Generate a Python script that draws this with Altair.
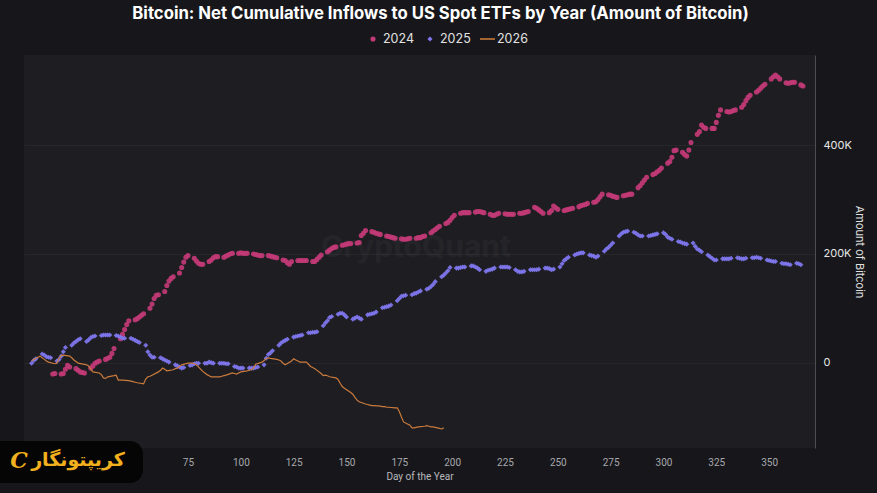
import altair as alt
import pandas as pd

# ---------------- data (net cumulative inflows, thousand BTC, per trading day) ----------------
years = ["2024", "2025", "2026"]
colors = ["#c23a76", "#8077f0", "#c97a3d"]

vals_2024 = sum([
    [-21, -20],
    [-21, -20, -12, -5, -8],
    [-11, -14, -17, -18, -19],
    [-10, -6, -1, 1, 3],
    [6, 8, 10, 17, 26],
    [44, 52, 61, 70, 77],
    [79, 81, 84, 87, 90],
    [100, 108, 118, 124, 125],
    [131, 142, 150, 155, 158],
    [165, 175, 185, 194, 197],
    [192, 187, 183, 181, 181],
    [186, 189, 193, 195, 195],
    [194, 196, 198, 200, 201],
    [201, 202, 201, 201, 201],
    [200, 199, 198, 197, 197],
    [197, 196, 195, 194, 193],
    [189, 188, 184, 181, 186],
    [188, 188, 188, 188, 188],
    [186, 186, 190, 194, 198],
    [204, 207, 210, 212, 213],
    [216, 217, 218, 219, 219],
    [220, 221, 234, 238, 243],
    [241, 240, 238, 237, 236],
    [233, 232, 231, 230, 229],
    [228, 227, 227, 228, 229],
    [229, 230, 230, 232, 233],
    [239, 242, 245, 248, 251],
    [256, 258, 262, 267, 271],
    [275, 276, 276, 276, 276],
    [277, 278, 278, 277, 276],
    [273, 271, 271, 273, 275],
    [274, 273, 273, 273, 273],
    [275, 275, 276, 277, 278],
    [286, 284, 281, 278, 275],
    [276, 280, 288, 285, 282],
    [280, 281, 282, 283, 284],
    [287, 289, 290, 291, 293],
    [295, 296, 300, 305, 310],
    [309, 308, 306, 305, 304],
    [307, 308, 309, 310, 310],
    [322, 326, 331, 336, 341],
    [346, 348, 351, 354, 358],
    [367, 370, 378, 390, 391],
    [387, 383, 380, 391, 405],
    [420, 425, 437, 433, 431],
    [431, 431, 442, 455, 465],
    [462, 461, 462, 464, 465],
    [470, 475, 482, 488, 492],
    [498, 501, 505, 509, 512],
    [522, 526, 529, 526, 522],
    [515, 514, 515, 516, 516],
    [511, 509],
], [])

vals_2025 = sum([
    [-1, 4, 7],
    [16, 14, 11, 10, 9],
    [3, 6, 12, 20, 28],
    [32, 36, 39, 42, 44],
    [39, 42, 46, 48, 49],
    [50, 51, 51, 51, 51],
    [50, 49, 47, 45, 45],
    [45, 43, 41, 39, 37],
    [32, 20, 14, 10, 10],
    [9, 7, 5, 3, 1],
    [-4, -6, -8, -10, -9],
    [-5, -4, -2, -1, -1],
    [-1, -1, 1, 0, -1],
    [-1, -1, -1, -2, -2],
    [-7, -8, -10, -10, -10],
    [-10, -10, -10, -9, -8],
    [-4, 8, 15, 18, 22],
    [32, 36, 39, 41, 43],
    [47, 48, 49, 50, 51],
    [55, 55, 56, 56, 57],
    [68, 73, 77, 83, 85],
    [89, 91, 91, 88, 84],
    [80, 82, 84, 82, 80],
    [88, 89, 90, 91, 93],
    [101, 102, 103, 104, 106],
    [114, 118, 122, 123, 124],
    [125, 127, 128, 130, 132],
    [135, 137, 140, 144, 149],
    [158, 161, 165, 169, 175],
    [174, 174, 175, 176, 176],
    [178, 178, 176, 174, 171],
    [168, 170, 171, 172, 174],
    [176, 176, 176, 176, 175],
    [171, 168, 167, 167, 168],
    [171, 171, 171, 171, 172],
    [174, 174, 173, 171, 172],
    [176, 182, 188, 191, 194],
    [198, 200, 201, 202, 202],
    [198, 197, 196, 194, 196],
    [205, 209, 212, 216, 220],
    [233, 237, 240, 241, 242],
    [240, 238, 235, 233, 233],
    [233, 234, 235, 236, 237],
    [239, 236, 231, 229, 227],
    [223, 222, 220, 219, 218],
    [220, 214, 209, 207, 204],
    [198, 195, 192, 189, 189],
    [191, 191, 191, 191, 192],
    [193, 192, 191, 191, 192],
    [193, 193, 194, 193, 192],
    [189, 188, 187, 186, 186],
    [183, 182, 182, 181, 180],
    [183, 182, 180],
], [])

vals_2026 = sum([
    [3, 6],
    [12, 9, 6, 3, 1],
    [-2, -1, 8, 13, 14],
    [12, 9, 5, 2, -1],
    [-3, -4, -6, -12, -17],
    [-19, -22, -28, -29, -26],
    [-24, -23, -32, -32, -32],
    [-33, -34, -35, -36, -37],
    [-39, -30, -26, -25, -23],
    [-17, -14, -10, -12, -15],
    [-13, -11, -10, -7, -4],
    [-1, -1, -1, -2, -4],
    [-16, -19, -22, -24, -26],
    [-26, -26, -25, -24, -23],
    [-19, -20, -21, -19, -17],
    [-15, -14, -13, -10, -3],
    [1, 4, 7, 9, 8],
    [6, 5, 3, -1, -4],
    [3, 7, 5, 3, 1],
    [1, -3, -7, -9, -11],
    [-20, -24, -23, -24, -26],
    [-28, -31, -38, -44, -47],
    [-55, -58, -64, -69, -72],
    [-76, -77, -78, -79, -79],
    [-80, -81, -81, -82, -82],
    [-83, -83, -90, -100, -109],
    [-115, -120, -120, -119, -118],
    [-117, -116, -117, -118, -118],
    [-121, -122, -120],
], [])


def trading_days(first, last, weekend_mods):
    """Calendar weekdays (day of year) for a given year layout."""
    return [d for d in range(first, last + 1) if d % 7 not in weekend_mods]


days_2024 = trading_days(11, 366, {6, 0})   # 2024-01-01 is a Monday
days_2025 = trading_days(1, 365, {4, 5})    # 2025-01-01 is a Wednesday
days_2026 = trading_days(1, 196, {3, 4})    # 2026-01-01 is a Thursday

pts = pd.concat([
    pd.DataFrame({"day": days_2024, "value": vals_2024, "year": "2024"}),
    pd.DataFrame({"day": days_2025, "value": vals_2025, "year": "2025"}),
])
line = pd.DataFrame({"day": days_2026, "value": vals_2026, "year": "2026"})

# ---------------- chart ----------------
W, H = 791, 393
FONT = "Inter"

x_scale = alt.Scale(domain=[-2.6, 371.7], nice=False, zero=False)
y_scale = alt.Scale(domain=[-157, 566], nice=False, zero=False)
color_scale = alt.Scale(domain=years, range=colors)
shape_scale = alt.Scale(domain=years, range=["circle", "diamond", "stroke"])

x_axis = alt.Axis(
    values=list(range(75, 351, 25)), title="Day of the Year", grid=False, domain=False,
    ticks=False, labelColor="#a8a8ad", labelFontSize=10, labelFont="Roboto",
    labelPadding=9, titleColor="#b8b8bd", titleFontSize=10, titleFont="Roboto",
    titleFontWeight="normal", titlePadding=4,
)
y_axis = alt.Axis(
    orient="right", values=[0, 200, 400], title="Amount of Bitcoin",
    labelExpr="datum.value == 0 ? '0' : datum.value + 'K'",
    grid=True, gridColor="#26262b", gridWidth=1, domain=True, domainColor="#4d4d53",
    ticks=False, labelColor="#e6e6e6", labelFontSize=11, labelFont=FONT,
    labelPadding=8, titleColor="#e0e0e0", titleFontSize=11, titleFont=FONT,
    titleFontWeight="normal", titleAngle=90, titlePadding=2,
)

watermark = alt.Chart(pd.DataFrame({"t": ["CryptoQuant"]})).mark_text(
    font=FONT, fontSize=30, fontWeight="bold", color="#ffffff", opacity=0.03,
    align="center", baseline="middle",
).encode(x=alt.value(392), y=alt.value(193), text="t:N")

points = alt.Chart(pts).mark_point(filled=True, size=26, opacity=0.92).encode(
    x=alt.X("day:Q", scale=x_scale, axis=x_axis),
    y=alt.Y("value:Q", scale=y_scale, axis=y_axis),
    color=alt.Color("year:N", scale=color_scale, legend=None),
    shape=alt.Shape("year:N", scale=shape_scale, legend=None),
)

line_layer = alt.Chart(line).mark_line(strokeWidth=1.2).encode(
    x=alt.X("day:Q", scale=x_scale),
    y=alt.Y("value:Q", scale=y_scale),
    color=alt.Color("year:N", scale=color_scale, legend=None),
)

# ---- legend (drawn by hand, top centre) ----
leg_df = pd.DataFrame({"year": years})
LY = -16
leg_2024 = alt.Chart(leg_df[leg_df.year == "2024"]).mark_point(filled=True, size=26, opacity=1).encode(
    x=alt.value(349), y=alt.value(LY), color=alt.Color("year:N", scale=color_scale, legend=None),
    shape=alt.Shape("year:N", scale=shape_scale, legend=None))
leg_2025 = alt.Chart(leg_df[leg_df.year == "2025"]).mark_point(filled=True, size=26, opacity=1).encode(
    x=alt.value(406), y=alt.value(LY), color=alt.Color("year:N", scale=color_scale, legend=None),
    shape=alt.Shape("year:N", scale=shape_scale, legend=None))
leg_2026 = alt.Chart(leg_df[leg_df.year == "2026"]).mark_rule(strokeWidth=1.6).encode(
    x=alt.value(456), x2=alt.value(471), y=alt.value(LY),
    color=alt.Color("year:N", scale=color_scale, legend=None))
leg_txt = [
    alt.Chart(leg_df[leg_df.year == yr]).mark_text(
        font=FONT, fontSize=12.5, color="#e2e2e2", align="left", baseline="middle"
    ).encode(x=alt.value(px), y=alt.value(LY), text="year:N")
    for yr, px in zip(years, [359, 416, 473])
]

logo_df = pd.DataFrame({"t": ["کریپتونگار"], "c": ["C"]})
logo_box = alt.Chart(logo_df).mark_rect(color="#050505", cornerRadius=13).encode(
    x=alt.value(-40), x2=alt.value(119), y=alt.value(386), y2=alt.value(428)
)
logo_text = alt.Chart(logo_df).mark_text(
    font="DejaVu Sans", fontSize=19, fontWeight="bold", color="#f2b01e",
    align="center", baseline="middle",
).encode(x=alt.value(54), y=alt.value(405), text="t:N")
logo_icon = alt.Chart(logo_df).mark_text(
    font="DejaVu Serif", fontSize=22, fontWeight="bold", fontStyle="italic",
    color="#f2b01e", align="center", baseline="middle",
).encode(x=alt.value(-5), y=alt.value(406), text="c:N")

chart = alt.layer(
    watermark, points, line_layer, leg_2024, leg_2025, leg_2026, *leg_txt,
    logo_box, logo_text, logo_icon,
).properties(
    width=W, height=H,
    background="#17171b",
    padding={"left": 24, "top": 55, "right": 62, "bottom": 45},
    autosize=alt.AutoSizeParams(type="none"),
    title=alt.TitleParams(
        "Bitcoin: Net Cumulative Inflows to US Spot ETFs by Year (Amount of Bitcoin)",
        font=FONT, fontSize=16.7, fontWeight="bold", color="#ffffff",
        anchor="middle", dx=21, offset=10,
    ),
).configure_view(fill="#1e1e22", stroke=None)

chart.save("out.html", embed_options={"renderer": "svg", "actions": False})
